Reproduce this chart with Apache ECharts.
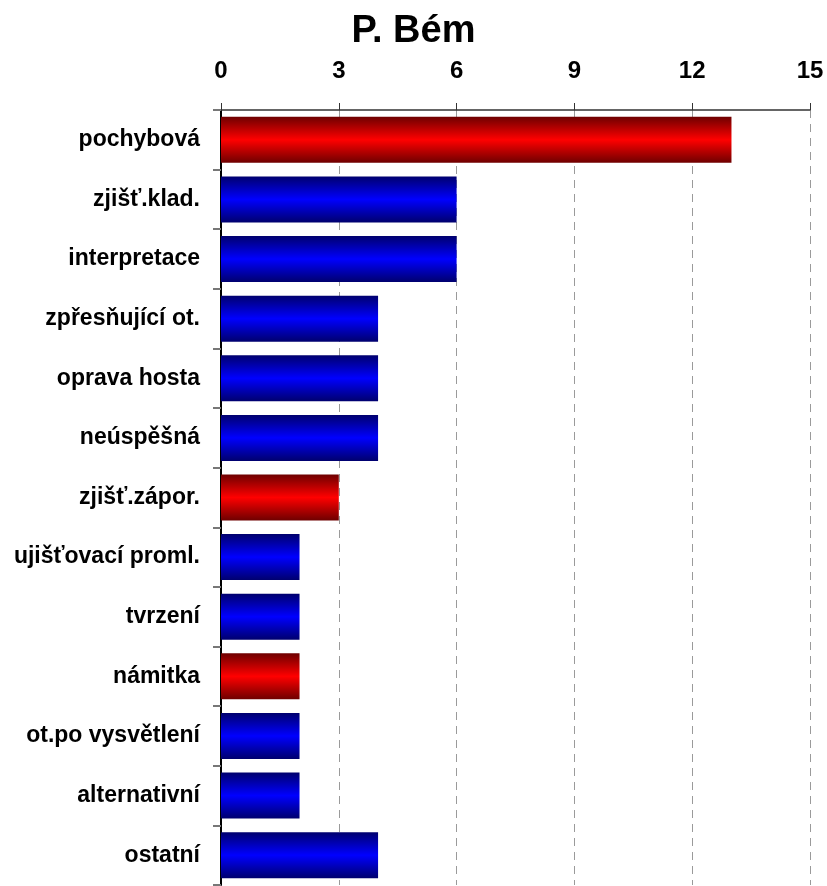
<!DOCTYPE html>
<html>
<head>
<meta charset="utf-8">
<title>P. Bém</title>
<script src="https://cdn.jsdelivr.net/npm/echarts@6/dist/echarts.min.js"></script>
<style>
  html, body { margin: 0; padding: 0; background: #fff; }
  #chart { width: 827px; height: 886px; }
</style>
</head>
<body>
<div id="chart"></div>
<script>
const categories = ['pochybová', 'zjišť.klad.', 'interpretace', 'zpřesňující ot.', 'oprava hosta',
  'neúspěšná', 'zjišť.zápor.', 'ujišťovací proml.', 'tvrzení', 'námitka',
  'ot.po vysvětlení', 'alternativní', 'ostatní'];
const counts = [13, 6, 6, 4, 4, 4, 3, 2, 2, 2, 2, 2, 4];
// categories drawn in red, all others blue
const redCategories = ['pochybová', 'zjišť.zápor.', 'námitka'];
const xTicks = [0, 3, 6, 9, 12, 15];

function barFill(dark, bright) {
  return new echarts.graphic.LinearGradient(0, 0, 0, 1, [
    { offset: 0, color: dark },
    { offset: 0.5, color: bright },
    { offset: 1, color: dark }
  ]);
}
const redFill = barFill('#6e0000', '#ff0000');
const blueFill = barFill('#00006e', '#0000ff');

const chart = echarts.init(document.getElementById('chart'));
const font = 'Liberation Sans, Arial, sans-serif';

chart.setOption({
  backgroundColor: '#fff',
  animation: false,
  title: {
    text: 'P. Bém',
    left: 'center',
    top: 8,
    textStyle: { fontFamily: font, fontSize: 38, fontWeight: 'bold', color: '#000' }
  },
  grid: { left: 221, right: 17, top: 110, bottom: 1, containLabel: false },
  xAxis: {
    type: 'value',
    position: 'top',
    min: xTicks[0],
    max: xTicks[xTicks.length - 1],
    interval: 3,
    axisLine: { show: true, lineStyle: { color: '#333', width: 1.5 } },
    axisTick: { show: true, length: 7, lineStyle: { color: '#333' } },
    axisLabel: {
      margin: 27,
      fontFamily: font, fontSize: 24, fontWeight: 'bold', color: '#000'
    },
    splitLine: { show: true, lineStyle: { color: '#9a9a9a', type: [8, 6], width: 1 } }
  },
  yAxis: {
    type: 'category',
    inverse: true,
    data: categories,
    axisLine: { show: true, lineStyle: { color: '#000', width: 2 } },
    axisTick: { show: true, length: 8, lineStyle: { color: '#777', width: 2 } },
    axisLabel: {
      margin: 21,
      fontFamily: font, fontSize: 23, fontWeight: 'bold', color: '#000'
    },
    splitLine: { show: false }
  },
  series: [{
    type: 'bar',
    data: counts.map((v, i) => ({
      value: v,
      itemStyle: { color: redCategories.includes(categories[i]) ? redFill : blueFill }
    })),
    barWidth: 46
  }]
});
</script>
</body>
</html>
